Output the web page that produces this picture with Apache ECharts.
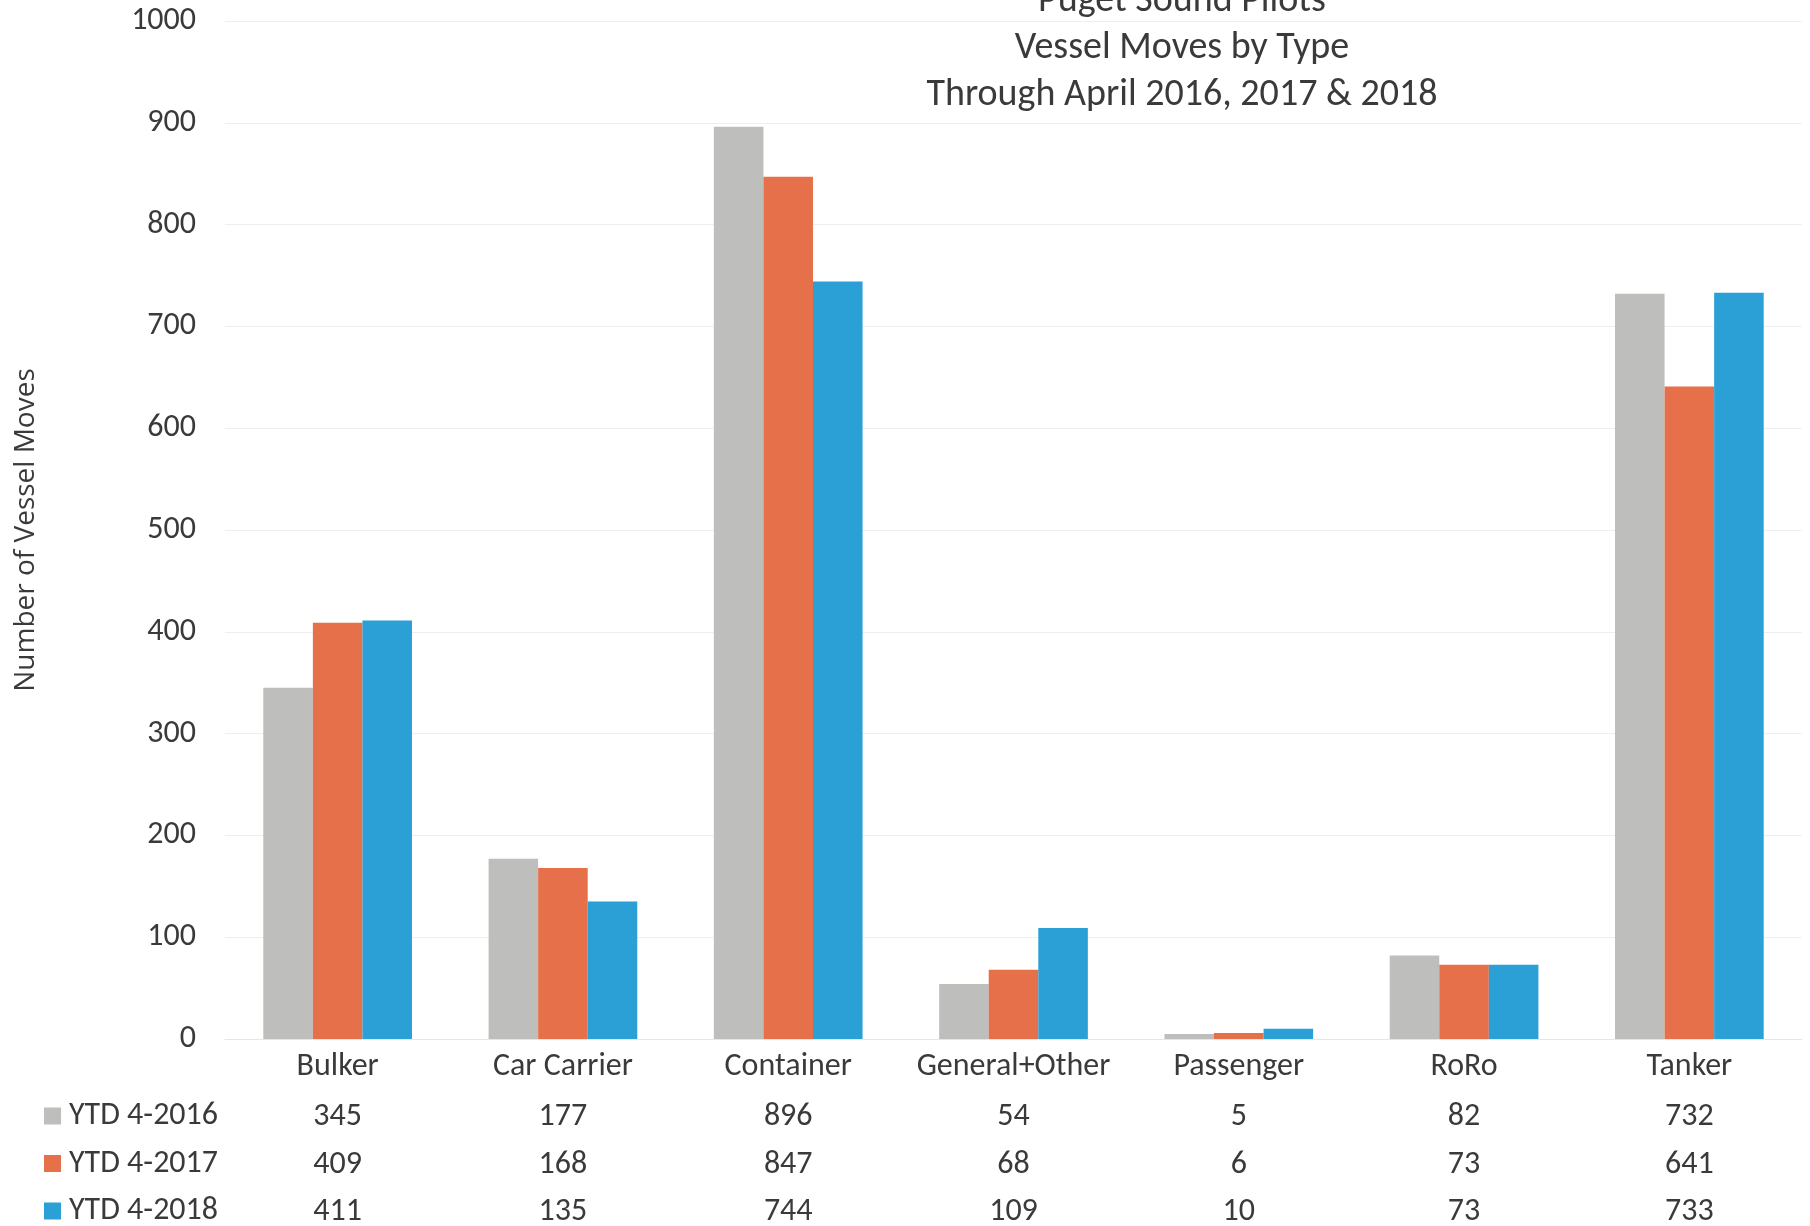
<!DOCTYPE html>
<html>
<head>
<meta charset="utf-8">
<script src="https://cdn.jsdelivr.net/npm/echarts@6/dist/echarts.min.js"></script>
<style>html,body{margin:0;padding:0;background:#fff}#c{width:1810px;height:1226px}</style>
</head>
<body>
<div id="c"></div>
<script>
const categories = ['Bulker','Car Carrier','Container','General+Other','Passenger','RoRo','Tanker'];
const seriesNames = ['YTD 4-2016','YTD 4-2017','YTD 4-2018'];
const ytd2016 = [345,177,896,54,5,82,732];
const ytd2017 = [409,168,847,68,6,73,641];
const ytd2018 = [411,135,744,109,10,73,733];
const yTicks = [0,100,200,300,400,500,600,700,800,900,1000];
const colors = ['#BEBFBD','#E6704A','#2AA0D6'];
const rows = [ytd2016, ytd2017, ytd2018];

const FONT = 'Carlito, Calibri, Lato, sans-serif';
const TXT = '#3a3a3a';
const FS = 32;
const ROW_GAP = 47.5;
const chart = echarts.init(document.getElementById('c'));

const tableAxes = rows.map((row, r) => ({
  type: 'category',
  data: categories,
  position: 'bottom',
  offset: 50 + r * ROW_GAP,
  axisLine: {show: false},
  axisTick: {show: false},
  splitLine: {show: false},
  axisLabel: {
    interval: 0, margin: 12,
    fontFamily: FONT, fontSize: FS, color: TXT,
    formatter: (v, i) => String(row[i])
  }
}));

const legends = seriesNames.map((n, i) => ({
  orient: 'horizontal',
  left: 44, top: 1100 + i * ROW_GAP, padding: 0,
  itemWidth: 17, itemHeight: 17,
  icon: 'rect',
  data: [n],
  textStyle: {fontFamily: FONT, fontSize: FS, color: TXT, padding: [0,0,0,3]}
}));

chart.setOption({
  animation: false,
  color: colors,
  title: {
    text: 'Puget Sound Pilots\nVessel Moves by Type\nThrough April 2016, 2017 & 2018',
    left: 1177, top: -27, textAlign: 'center',
    textStyle: {fontFamily: FONT, fontSize: 38, fontWeight: 'normal', color: TXT, lineHeight: 47}
  },
  legend: legends,
  grid: {left: 225, right: 8, top: 21, bottom: 187, containLabel: false, outerBoundsMode: 'none'},
  xAxis: [{
    type: 'category',
    data: categories,
    axisLine: {show: true, lineStyle: {color: '#e6e6e6'}},
    axisTick: {show: false},
    axisLabel: {interval: 0, margin: 12, fontFamily: FONT, fontSize: FS, color: TXT}
  }].concat(tableAxes),
  yAxis: {
    type: 'value',
    min: yTicks[0], max: yTicks[yTicks.length - 1], interval: 100,
    name: 'Number of Vessel Moves',
    nameLocation: 'middle', nameRotate: 90, nameGap: 185,
    nameTextStyle: {fontFamily: 'Open Sans, sans-serif', fontSize: 28, color: TXT},
    axisLine: {show: false},
    axisTick: {show: false},
    axisLabel: {margin: 29, fontFamily: FONT, fontSize: FS, color: TXT, formatter: v => String(v)},
    splitLine: {lineStyle: {color: '#efefef', width: 1}}
  },
  series: rows.map((row, r) => ({
    name: seriesNames[r],
    type: 'bar',
    data: row,
    barGap: '0%',
    barCategoryGap: '34%',
    itemStyle: {color: colors[r]}
  }))
});
</script>
</body>
</html>
